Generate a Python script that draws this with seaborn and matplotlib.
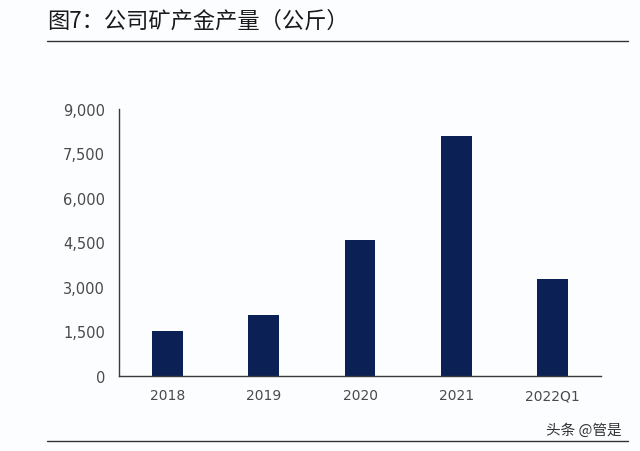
import matplotlib
matplotlib.use("Agg")
import matplotlib.pyplot as plt
import seaborn as sns
import pandas as pd
from matplotlib.lines import Line2D
from matplotlib.ticker import FuncFormatter

# data (kg)
periods = ["2018", "2019", "2020", "2021", "2022Q1"]
gold_output = [1510, 2050, 4580, 8090, 3270]
y_ticks = [0, 1500, 3000, 4500, 6000, 7500, 9000]

df = pd.DataFrame({"period": periods, "output": gold_output})

sns.set_theme(style="white")
plt.rcParams["font.family"] = ["Noto Sans CJK SC", "DejaVu Sans"]

bg = "#fcfdfe"
fig = plt.figure(figsize=(6.4, 4.52), dpi=100, facecolor=bg)
ax = fig.add_axes([0.186, 0.166, 0.753, 0.591], facecolor=bg)

sns.barplot(data=df, x="period", y="output", color="#0b2155", saturation=1,
            width=0.32, linewidth=0, ax=ax)

ax.set_ylim(0, 9000)
ax.set_yticks(y_ticks)
ax.yaxis.set_major_formatter(FuncFormatter(lambda v, p: f"{int(v):,}"))
ax.set_xlim(-0.5, len(periods) - 0.5)
ax.set_xlabel("")
ax.set_ylabel("")

for side in ["top", "right"]:
    ax.spines[side].set_visible(False)
for side in ["left", "bottom"]:
    ax.spines[side].set_color("#3a3a3a")
    ax.spines[side].set_linewidth(1.0)

ax.tick_params(axis="y", direction="out", length=5, width=1, color="#3a3a3a",
               labelsize=10.5, labelcolor="#4a4a4a", pad=5)
ax.tick_params(axis="x", length=0, labelsize=10, labelcolor="#4a4a4a", pad=9)
for lab in ax.get_xticklabels() + ax.get_yticklabels():
    lab.set_fontfamily(["DejaVu Sans"])

# title and rules
fig.text(0.073, 1 - 21 / 452, "图7：公司矿产金产量（公斤）", fontsize=16,
         color="#1a1a1a", va="center", ha="left", fontweight="medium")
fig.add_artist(Line2D([47 / 640, 628 / 640], [1 - 42 / 452, 1 - 42 / 452],
                      color="#333333", lw=1.0))
fig.add_artist(Line2D([47 / 640, 628 / 640], [1 - 442 / 452, 1 - 442 / 452],
                      color="#333333", lw=1.0))
fig.text(622 / 640, 1 - 431 / 452, "头条 @管是", fontsize=10.5,
         color="#333333", ha="right", va="center")

fig.savefig("out.png", dpi=100, facecolor=bg)
